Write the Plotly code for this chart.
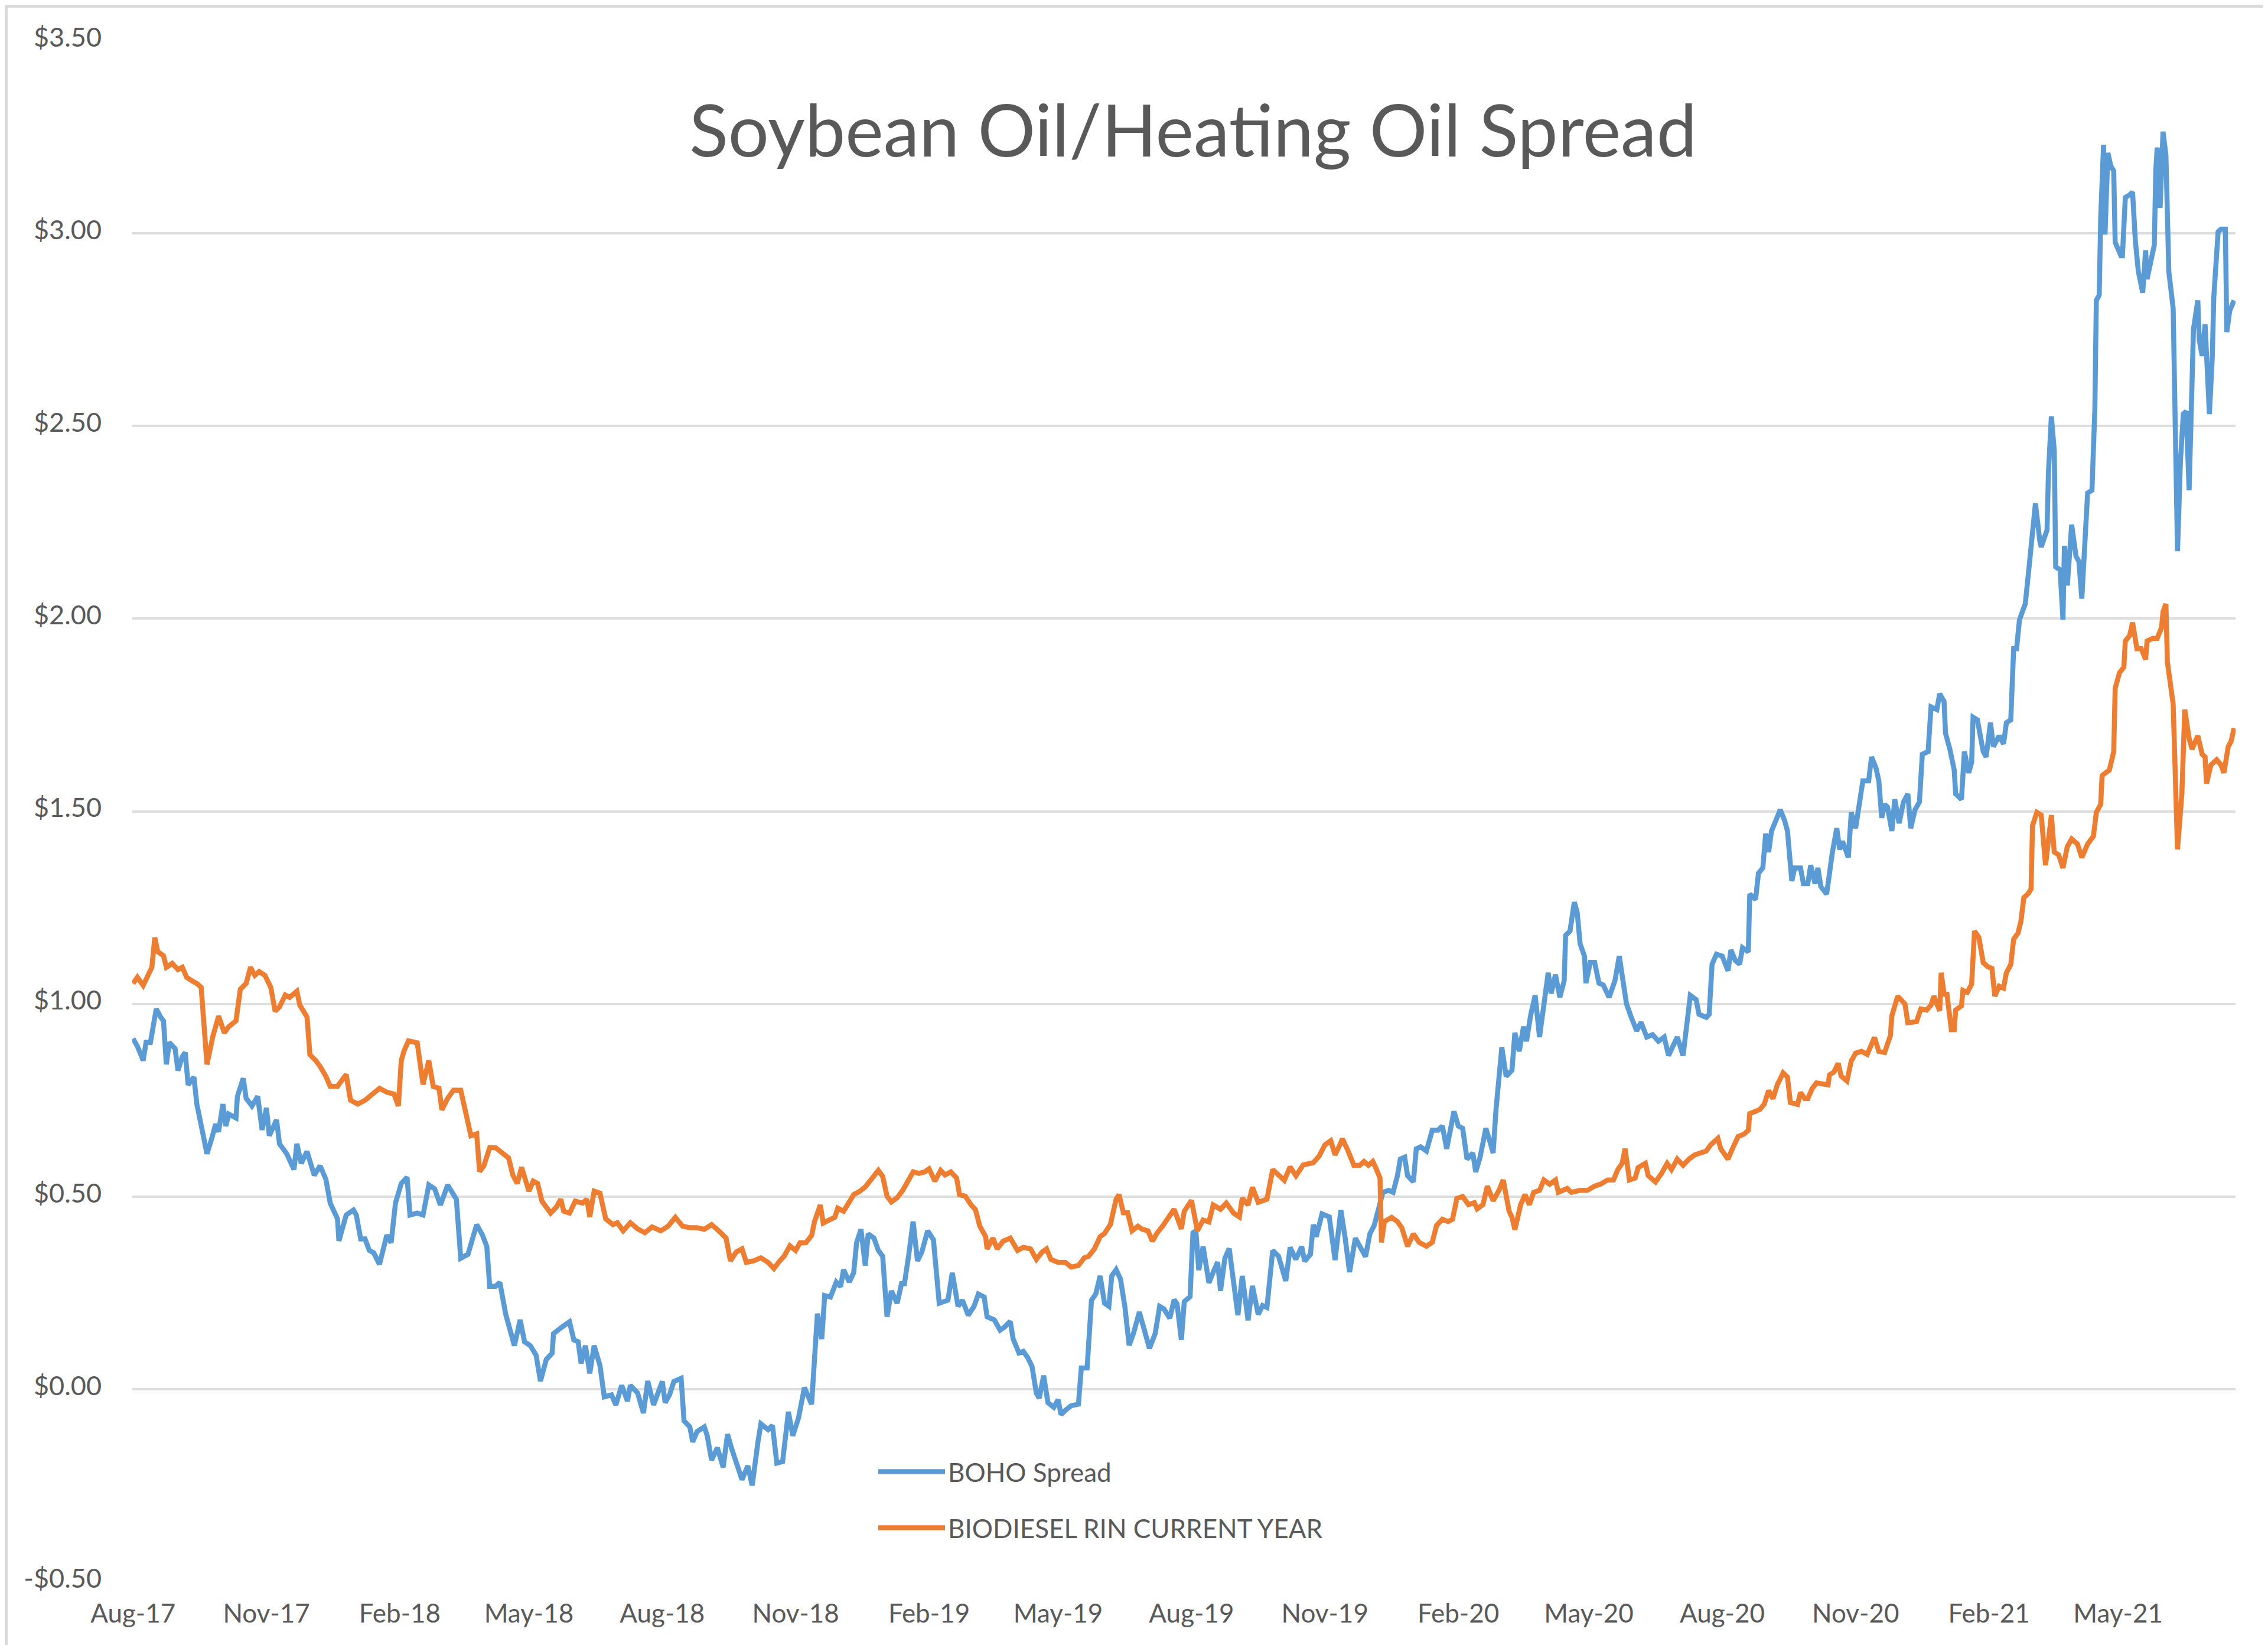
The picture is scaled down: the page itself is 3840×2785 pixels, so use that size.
import pandas as pd
import plotly.graph_objects as go

# ---------------- data ----------------
START_DATE = "2017-08-01"   # day 0 of the series below

boho_days = [
    0, 3, 7, 9, 12, 16, 19, 21, 23, 25, 29, 31, 34, 36, 38, 42, 44, 48, 51, 54, 57, 59, 62, 64, 66, 71, 72, 76, 78, 82,
    86, 89, 92, 94, 96, 99, 101, 106, 111, 113, 116, 120, 125, 129, 133, 136, 141, 142, 147, 152, 154, 157, 160, 163,
    166, 170, 175, 178, 181, 185, 189, 191, 196, 200, 204, 208, 212, 215, 217, 223, 226, 231, 237, 241, 244, 246, 250,
    253, 257, 260, 263, 267, 270, 274, 278, 281, 285, 289, 290, 295, 301, 304, 307, 309, 312, 315, 318, 322, 325, 330,
    333, 337, 341, 343, 348, 352, 355, 359, 362, 365, 367, 370, 373, 378, 380, 384, 386, 389, 394, 396, 399, 403, 407,
    410, 413, 416, 420, 424, 427, 431, 433, 438, 441, 444, 448, 452, 455, 459, 463, 468, 472, 475, 477, 481, 485, 488,
    490, 494, 497, 499, 502, 505, 507, 511, 514, 517, 520, 523, 527, 530, 532, 535, 538, 541, 544, 548, 552, 556, 559,
    562, 565, 569, 572, 576, 580, 583, 587, 589, 594, 598, 601, 605, 607, 611, 614, 617, 620, 623, 625, 628, 631, 635,
    638, 640, 643, 647, 652, 654, 658, 661, 664, 667, 670, 673, 675, 678, 681, 684, 687, 690, 694, 697, 701, 705, 708,
    711, 715, 718, 720, 723, 725, 729, 731, 733, 735, 738, 742, 745, 748, 750, 753, 756, 759, 762, 765, 769, 772, 776,
    779, 782, 786, 790, 795, 798, 802, 806, 808, 812, 814, 816, 820, 825, 829, 833, 836, 839, 843, 848, 850, 853, 856,
    859, 862, 866, 869, 872, 874, 877, 879, 883, 885, 888, 892, 896, 900, 903, 906, 911, 914, 917, 920, 924, 926, 929,
    933, 936, 938, 940, 944, 947, 951, 953, 956, 959, 961, 964, 967, 970, 973, 976, 978, 981, 984, 987, 988, 991, 994,
    996, 998, 1001, 1002, 1005, 1008, 1011, 1014, 1018, 1022, 1025, 1028, 1030, 1033, 1037, 1040, 1044, 1048, 1052,
    1056, 1059, 1063, 1065, 1069, 1071, 1074, 1078, 1080, 1085, 1087, 1089, 1092, 1096, 1100, 1102, 1105, 1108, 1110,
    1114, 1115, 1119, 1121, 1124, 1126, 1128, 1130, 1133, 1136, 1139, 1141, 1144, 1146, 1150, 1152, 1155, 1157, 1160,
    1162, 1164, 1168, 1172, 1175, 1177, 1179, 1183, 1185, 1188, 1192, 1193, 1197, 1199, 1202, 1204, 1206, 1208, 1210,
    1213, 1215, 1218, 1221, 1224, 1226, 1229, 1232, 1234, 1238, 1240, 1244, 1246, 1249, 1250, 1253, 1256, 1257, 1261,
    1263, 1266, 1268, 1269, 1272, 1276, 1278, 1281, 1283, 1287, 1290, 1292, 1295, 1297, 1299, 1301, 1303, 1305, 1308,
    1310, 1312, 1315, 1316, 1320, 1321, 1323, 1325, 1326, 1329, 1331, 1332, 1334, 1337, 1340, 1342, 1344, 1346, 1348,
    1351, 1353, 1354, 1356, 1357, 1359, 1360, 1362, 1364, 1366, 1367, 1371, 1372, 1374, 1377, 1379, 1381, 1383, 1386,
    1388, 1389, 1392, 1394, 1395, 1396, 1398, 1399, 1400, 1402, 1404, 1407, 1410, 1412, 1414, 1416, 1418, 1421, 1424,
    1425, 1427, 1429, 1432, 1434, 1435, 1438, 1440, 1443, 1444, 1446, 1449,
]
boho_values = [
    0.91, 0.89, 0.853, 0.90, 0.90, 0.987, 0.966, 0.956, 0.843, 0.90, 0.884, 0.827, 0.863, 0.874, 0.79, 0.81, 0.74,
    0.658, 0.611, 0.647, 0.688, 0.668, 0.74, 0.683, 0.714, 0.704, 0.76, 0.807, 0.755, 0.735, 0.76, 0.673, 0.73, 0.658,
    0.678, 0.699, 0.637, 0.611, 0.57, 0.637, 0.586, 0.617, 0.555, 0.58, 0.545, 0.483, 0.442, 0.385, 0.452, 0.465, 0.452,
    0.39, 0.39, 0.36, 0.354, 0.324, 0.40, 0.38, 0.483, 0.534, 0.55, 0.452, 0.457, 0.452, 0.53, 0.52, 0.478, 0.514, 0.53,
    0.493, 0.34, 0.35, 0.427, 0.40, 0.37, 0.267, 0.267, 0.277, 0.195, 0.154, 0.113, 0.18, 0.123, 0.113, 0.088, 0.021,
    0.077, 0.093, 0.144, 0.159, 0.175, 0.128, 0.123, 0.067, 0.113, 0.041, 0.113, 0.062, -0.02, -0.015, -0.041, 0.01,
    -0.031, 0.01, -0.01, -0.062, 0.021, -0.041, -0.011, 0.02, -0.035, -0.015, 0.02, 0.028, -0.082, -0.098, -0.137,
    -0.11, -0.098, -0.121, -0.184, -0.152, -0.203, -0.117, -0.156, -0.192, -0.235, -0.199, -0.25, -0.137, -0.09,
    -0.105, -0.094, -0.192, -0.188, -0.059, -0.121, -0.074, 0.004, -0.039, 0.196, 0.13, 0.243, 0.239, 0.278, 0.266,
    0.31, 0.278, 0.302, 0.38, 0.415, 0.321, 0.403, 0.392, 0.36, 0.345, 0.188, 0.255, 0.223, 0.274, 0.274, 0.349, 0.435,
    0.333, 0.356, 0.411, 0.388, 0.223, 0.227, 0.231, 0.302, 0.215, 0.231, 0.192, 0.215, 0.247, 0.239, 0.188, 0.18,
    0.153, 0.161, 0.176, 0.13, 0.094, 0.098, 0.082, 0.059, -0.011, -0.023, 0.035, -0.035, -0.047, -0.027, -0.066,
    -0.055, -0.043, -0.039, 0.055, 0.055, 0.231, 0.247, 0.294, 0.223, 0.215, 0.294, 0.31, 0.286, 0.215, 0.114, 0.145,
    0.2, 0.161, 0.106, 0.145, 0.215, 0.208, 0.184, 0.232, 0.222, 0.128, 0.227, 0.24, 0.406, 0.411, 0.309, 0.37, 0.276,
    0.304, 0.33, 0.255, 0.34, 0.365, 0.284, 0.192, 0.294, 0.179, 0.268, 0.194, 0.217, 0.212, 0.36, 0.345, 0.281, 0.368,
    0.337, 0.37, 0.332, 0.35, 0.427, 0.396, 0.455, 0.447, 0.335, 0.465, 0.391, 0.304, 0.392, 0.36, 0.344, 0.403, 0.425,
    0.468, 0.511, 0.516, 0.511, 0.554, 0.597, 0.602, 0.554, 0.538, 0.624, 0.629, 0.618, 0.672, 0.672, 0.683, 0.624,
    0.721, 0.683, 0.677, 0.597, 0.613, 0.564, 0.602, 0.677, 0.64, 0.613, 0.726, 0.887, 0.812, 0.828, 0.925, 0.877,
    0.941, 0.903, 0.973, 1.022, 0.914, 1.006, 1.081, 1.027, 1.076, 1.017, 1.06, 1.178, 1.189, 1.264, 1.237, 1.156,
    1.124, 1.054, 1.108, 1.108, 1.054, 1.049, 1.017, 1.06, 1.124, 1.049, 1.0, 0.968, 0.93, 0.952, 0.914, 0.92, 0.903,
    0.914, 0.866, 0.898, 0.914, 0.866, 0.92, 1.022, 1.011, 0.973, 0.965, 0.973, 1.103, 1.129, 1.124, 1.086, 1.14, 1.113,
    1.103, 1.146, 1.135, 1.285, 1.271, 1.339, 1.353, 1.442, 1.394, 1.449, 1.476, 1.504, 1.476, 1.449, 1.319, 1.353,
    1.353, 1.312, 1.312, 1.36, 1.312, 1.353, 1.305, 1.285, 1.394, 1.456, 1.401, 1.422, 1.38, 1.497, 1.456, 1.572, 1.579,
    1.579, 1.641, 1.613, 1.579, 1.483, 1.518, 1.511, 1.449, 1.531, 1.469, 1.524, 1.545, 1.456, 1.504, 1.524, 1.648,
    1.655, 1.771, 1.764, 1.805, 1.785, 1.703, 1.661, 1.607, 1.545, 1.531, 1.655, 1.6, 1.627, 1.744, 1.737, 1.655, 1.641,
    1.73, 1.668, 1.696, 1.675, 1.73, 1.737, 1.922, 1.922, 1.997, 2.018, 2.038, 2.148, 2.23, 2.299, 2.203, 2.186, 2.23,
    2.381, 2.525, 2.436, 2.134, 2.127, 1.997, 2.189, 2.086, 2.244, 2.162, 2.148, 2.052, 2.189, 2.326, 2.333, 2.545,
    2.826, 2.84, 3.038, 3.23, 2.997, 3.209, 3.175, 3.162, 2.977, 2.942, 2.942, 3.093, 3.1, 3.107, 2.977, 2.901, 2.846,
    2.956, 2.881, 2.929, 2.97, 3.162, 3.223, 3.066, 3.216, 3.264, 3.203, 2.901, 2.805, 2.175, 2.408, 2.531, 2.538,
    2.333, 2.751, 2.826, 2.723, 2.682, 2.764, 2.531, 2.682, 2.833, 3.004, 3.011, 3.011, 2.744, 2.799, 2.826,
]

rin_days = [
    0, 3, 7, 11, 13, 15, 17, 21, 23, 27, 31, 34, 37, 41, 44, 47, 51, 55, 59, 63, 66, 71, 74, 78, 81, 84, 87, 91, 95, 98,
    101, 105, 108, 113, 115, 120, 122, 126, 129, 133, 136, 141, 144, 147, 150, 155, 160, 165, 170, 175, 180, 183, 185,
    187, 190, 196, 200, 204, 207, 211, 213, 217, 221, 226, 229, 233, 237, 239, 242, 246, 250, 255, 259, 262, 265, 268,
    273, 276, 279, 282, 288, 292, 295, 297, 301, 305, 310, 313, 315, 318, 322, 326, 331, 334, 338, 343, 348, 353, 358,
    364, 369, 374, 379, 384, 389, 394, 399, 404, 409, 412, 416, 420, 423, 428, 433, 438, 442, 446, 449, 453, 457, 460,
    464, 468, 470, 474, 476, 480, 484, 486, 490, 494, 497, 501, 505, 509, 511, 514, 517, 520, 523, 527, 531, 535, 538,
    542, 546, 549, 553, 557, 560, 564, 568, 570, 574, 578, 581, 584, 588, 589, 593, 596, 600, 605, 610, 614, 619, 623,
    627, 630, 633, 638, 643, 647, 652, 656, 659, 663, 667, 670, 674, 678, 680, 683, 686, 689, 693, 696, 700, 703, 706,
    710, 715, 718, 723, 725, 730, 734, 738, 742, 745, 750, 754, 759, 763, 765, 769, 772, 776, 782, 786, 790, 794, 798,
    802, 807, 814, 818, 822, 826, 829, 833, 834, 838, 842, 846, 849, 852, 855, 857, 860, 861, 863, 868, 872, 875, 879,
    883, 887, 892, 896, 899, 903, 907, 910, 913, 917, 921, 925, 927, 931, 934, 938, 942, 945, 949, 951, 953, 957, 960,
    963, 966, 970, 973, 977, 981, 983, 989, 992, 998, 1003, 1008, 1012, 1017, 1021, 1024, 1027, 1029, 1032, 1036, 1038,
    1043, 1045, 1050, 1054, 1058, 1061, 1065, 1069, 1073, 1077, 1081, 1085, 1088, 1093, 1095, 1100, 1103, 1107, 1111,
    1114, 1115, 1119, 1122, 1125, 1128, 1131, 1134, 1138, 1141, 1143, 1148, 1150, 1153, 1155, 1158, 1161, 1166, 1169,
    1170, 1173, 1176, 1178, 1182, 1185, 1188, 1192, 1196, 1199, 1201, 1204, 1208, 1212, 1213, 1217, 1222, 1224, 1227,
    1230, 1233, 1237, 1240, 1242, 1244, 1246, 1247, 1249, 1251, 1254, 1256, 1257, 1261, 1262, 1265, 1268, 1270, 1273,
    1276, 1279, 1282, 1284, 1287, 1290, 1292, 1295, 1297, 1300, 1302, 1304, 1307, 1309, 1310, 1313, 1316, 1319, 1323,
    1325, 1328, 1331, 1334, 1337, 1341, 1344, 1348, 1352, 1354, 1357, 1358, 1363, 1366, 1367, 1370, 1373, 1374, 1377,
    1379, 1382, 1385, 1388, 1389, 1393, 1396, 1399, 1400, 1402, 1403, 1405, 1407, 1410, 1413, 1415, 1418, 1420, 1424,
    1427, 1429, 1430, 1433, 1437, 1440, 1442, 1445, 1447, 1449,
]
rin_values = [
    1.053, 1.069, 1.048, 1.079, 1.095, 1.172, 1.136, 1.125, 1.095, 1.105, 1.089, 1.095, 1.069, 1.059, 1.053, 1.043,
    0.843, 0.915, 0.968, 0.925, 0.941, 0.956, 1.038, 1.053, 1.095, 1.074, 1.084, 1.074, 1.043, 0.981, 0.992, 1.023,
    1.017, 1.033, 0.997, 0.966, 0.868, 0.853, 0.838, 0.812, 0.786, 0.786, 0.80, 0.817, 0.75, 0.74, 0.75, 0.766, 0.781,
    0.771, 0.766, 0.735, 0.853, 0.879, 0.904, 0.899, 0.791, 0.853, 0.786, 0.781, 0.725, 0.755, 0.776, 0.776, 0.73,
    0.658, 0.663, 0.565, 0.58, 0.627, 0.627, 0.611, 0.60, 0.555, 0.534, 0.576, 0.514, 0.54, 0.534, 0.488, 0.457, 0.473,
    0.493, 0.462, 0.457, 0.488, 0.483, 0.493, 0.447, 0.514, 0.509, 0.442, 0.427, 0.432, 0.411, 0.432, 0.416, 0.406,
    0.421, 0.411, 0.423, 0.446, 0.423, 0.419, 0.419, 0.415, 0.427, 0.411, 0.392, 0.333, 0.356, 0.364, 0.329, 0.333,
    0.341, 0.329, 0.313, 0.333, 0.345, 0.372, 0.36, 0.38, 0.38, 0.399, 0.435, 0.478, 0.431, 0.439, 0.446, 0.47, 0.462,
    0.486, 0.505, 0.513, 0.525, 0.544, 0.556, 0.568, 0.552, 0.501, 0.486, 0.497, 0.517, 0.548, 0.564, 0.56, 0.564,
    0.572, 0.54, 0.568, 0.556, 0.564, 0.548, 0.505, 0.501, 0.478, 0.466, 0.423, 0.396, 0.364, 0.392, 0.364, 0.384,
    0.392, 0.36, 0.368, 0.364, 0.337, 0.356, 0.364, 0.337, 0.329, 0.329, 0.317, 0.321, 0.341, 0.345, 0.364, 0.396,
    0.404, 0.427, 0.493, 0.505, 0.458, 0.458, 0.411, 0.423, 0.415, 0.411, 0.384, 0.404, 0.423, 0.45, 0.467, 0.416,
    0.462, 0.49, 0.411, 0.439, 0.434, 0.478, 0.467, 0.483, 0.457, 0.447, 0.496, 0.478, 0.524, 0.485, 0.493, 0.57,
    0.554, 0.542, 0.577, 0.554, 0.582, 0.588, 0.605, 0.634, 0.645, 0.608, 0.64, 0.65, 0.618, 0.581, 0.581, 0.591,
    0.581, 0.591, 0.575, 0.548, 0.381, 0.435, 0.446, 0.435, 0.419, 0.371, 0.403, 0.381, 0.371, 0.381, 0.425, 0.441,
    0.435, 0.441, 0.495, 0.5, 0.479, 0.484, 0.468, 0.479, 0.527, 0.489, 0.516, 0.543, 0.462, 0.446, 0.414, 0.479,
    0.505, 0.479, 0.511, 0.516, 0.543, 0.532, 0.543, 0.511, 0.521, 0.511, 0.516, 0.516, 0.527, 0.532, 0.543, 0.543,
    0.57, 0.586, 0.624, 0.543, 0.548, 0.575, 0.586, 0.554, 0.538, 0.559, 0.586, 0.57, 0.597, 0.581, 0.597, 0.608,
    0.613, 0.618, 0.634, 0.651, 0.624, 0.597, 0.624, 0.656, 0.662, 0.672, 0.715, 0.721, 0.726, 0.74, 0.775, 0.754,
    0.79, 0.821, 0.81, 0.744, 0.739, 0.77, 0.754, 0.754, 0.78, 0.795, 0.793, 0.79, 0.816, 0.823, 0.846, 0.813, 0.8,
    0.852, 0.872, 0.877, 0.869, 0.898, 0.913, 0.877, 0.874, 0.918, 0.969, 1.02, 1.0, 0.951, 0.951, 0.954, 0.987,
    0.984, 0.997, 1.02, 1.0, 0.982, 1.081, 1.025, 1.025, 0.933, 0.933, 0.984, 0.995, 1.035, 1.03, 1.051, 1.189, 1.173,
    1.107, 1.097, 1.092, 1.02, 1.046, 1.041, 1.081, 1.102, 1.168, 1.184, 1.214, 1.276, 1.286, 1.298, 1.463, 1.497,
    1.49, 1.36, 1.49, 1.394, 1.387, 1.353, 1.408, 1.428, 1.415, 1.38, 1.415, 1.435, 1.497, 1.518, 1.593, 1.607, 1.655,
    1.819, 1.86, 1.874, 1.942, 1.956, 1.99, 1.922, 1.922, 1.894, 1.942, 1.949, 1.949, 1.977, 2.018, 2.038, 1.888,
    1.833, 1.778, 1.401, 1.545, 1.764, 1.689, 1.661, 1.696, 1.648, 1.641, 1.572, 1.62, 1.634, 1.62, 1.6, 1.668, 1.682,
    1.716,
]

series_names = ["BOHO Spread", "BIODIESEL RIN CURRENT YEAR"]
series_colors = ["#5B9BD5", "#ED7D31"]

y_tick_values = [-0.5, 0.0, 0.5, 1.0, 1.5, 2.0, 2.5, 3.0, 3.5]
x_tick_dates = pd.date_range("2017-08-01", "2021-05-01", freq="3MS")
x_range = ["2017-07-31 12:00", "2021-07-21"]
title_text = "Soybean Oil/Heating Oil Spread"

# ---------------- figure ----------------
W, H = 3840, 2785
ML, MR, MT, MB = 216, 63, 61, 115
PW, PH = W - ML - MR, H - MT - MB

start = pd.Timestamp(START_DATE)
boho_x = start + pd.to_timedelta(boho_days, unit="D")
rin_x = start + pd.to_timedelta(rin_days, unit="D")

FONT = "Lato, 'Open Sans', sans-serif"
GREY = "#595959"

fig = go.Figure()
fig.add_trace(go.Scatter(x=boho_x, y=boho_values, mode="lines", name=series_names[0],
                         line=dict(color=series_colors[0], width=8.5), legend="legend"))
fig.add_trace(go.Scatter(x=rin_x, y=rin_values, mode="lines", name=series_names[1],
                         line=dict(color=series_colors[1], width=8.5), legend="legend2"))


def money(v):
    return ("-$%.2f" % abs(v)) if v < 0 else ("$%.2f" % v)


leg_common = dict(font=dict(family=FONT, size=44, color=GREY), bgcolor="rgba(0,0,0,0)",
                  itemwidth=113, xanchor="left", yanchor="middle", x=(1474 - ML) / PW)

fig.update_layout(
    width=W, height=H,
    margin=dict(l=ML, r=MR, t=MT, b=MB, pad=0),
    paper_bgcolor="white", plot_bgcolor="white",
    title=dict(text=title_text, x=2012 / W, xanchor="center", xref="container",
               y=1 - 214 / H, yanchor="middle", yref="container",
               font=dict(family=FONT, size=122, color=GREY, weight=400)),
    xaxis=dict(type="date", range=x_range, tickvals=list(x_tick_dates),
               ticktext=[d.strftime("%b-%y") for d in x_tick_dates],
               showgrid=False, zeroline=False, showline=False, ticks="",
               tickfont=dict(family=FONT, size=44, color=GREY), ticklabelstandoff=24),
    yaxis=dict(range=[-0.5, 3.5], tickvals=y_tick_values, ticktext=[money(v) for v in y_tick_values],
               showgrid=True, gridcolor="#DEDEDE", gridwidth=4, zeroline=False, showline=False,
               ticks="", tickfont=dict(family=FONT, size=45, color=GREY), ticklabelstandoff=51,
               ticklabelshift=-6),
    legend=dict(**leg_common, y=1 - (2484 - MT) / PH),
    legend2=dict(**leg_common, y=1 - (2579 - MT) / PH),
    showlegend=True,
    shapes=[dict(type="rect", xref="paper", yref="paper",
                 x0=(2.5 - ML) / PW, x1=(W - 2.5 - ML) / PW,
                 y0=-(MB - 2.5) / PH, y1=1 + (MT - 2.5) / PH,
                 line=dict(color="#D9D9D9", width=5), layer="below")],
)

fig.write_html("out.html")
